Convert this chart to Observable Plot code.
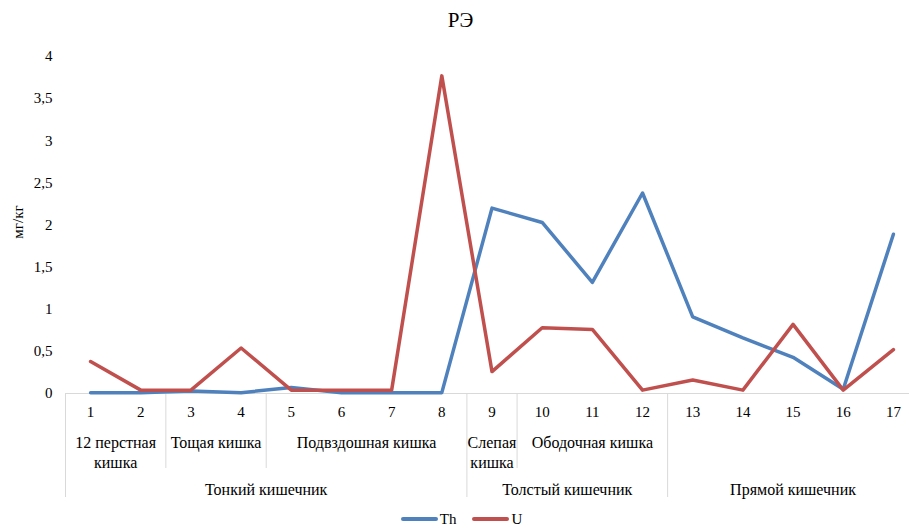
<!DOCTYPE html>
<html><head><meta charset="utf-8">
<script src="https://cdn.jsdelivr.net/npm/d3@7"></script>
<script src="https://cdn.jsdelivr.net/npm/@observablehq/plot@0.6"></script>
<style>
body{margin:0;background:#fff;font-family:'Liberation Serif',serif;color:#000}
#wrap{width:909px;height:531px;overflow:hidden;position:relative;background:#fff}
#title{height:44px;line-height:40px;text-align:center;font-size:21px;padding-left:12px;box-sizing:border-box}
#legend{height:24px;display:flex;justify-content:center;align-items:center;font-size:15px;padding-left:14px}
#legend .item{display:flex;align-items:center;margin:0 8px}
#legend svg{margin-right:2px}
#chart svg, #chart svg text{font-family:'Liberation Serif',serif}
</style></head>
<body><div id="wrap"><div id="title">РЭ</div><div id="chart"></div><div id="legend"></div></div>
<script>
const points = [1,2,3,4,5,6,7,8,9,10,11,12,13,14,15,16,17];
const th = [0.01,0.01,0.03,0.01,0.07,0.01,0.01,0.01,2.20,2.03,1.32,2.38,0.91,0.66,0.43,0.05,1.89];
const u  = [0.38,0.04,0.04,0.54,0.04,0.04,0.04,3.77,0.26,0.78,0.76,0.04,0.16,0.04,0.82,0.04,0.52];
const seriesNames = ["Th","U"];
const seriesColors = ["#4F81BD","#C0504D"];
const yTicks = [0,0.5,1,1.5,2,2.5,3,3.5,4];
const yLabel = "мг/кг";
const subgroupLabels = ["12 перстная\nкишка","Тощая кишка","Подвздошная кишка","Слепая\nкишка","Ободочная кишка",""];
const subgroupFrom = [1,3,5,9,10,13];
const subgroupTo   = [2,4,8,9,12,17];
const groupLabels = ["Тонкий кишечник","Толстый кишечник","Прямой кишечник"];
const groupFrom = [1,9,13];
const groupTo   = [8,12,17];

const data = [];
points.forEach((p,i)=>{ data.push({p, v: th[i], s: "Th"}); });
points.forEach((p,i)=>{ data.push({p, v: u[i], s: "U"}); });
const subgroups = subgroupLabels.map((label,i)=>({label, mid:(subgroupFrom[i]+subgroupTo[i])/2, start:subgroupFrom[i]-0.5}));
const groups = groupLabels.map((label,i)=>({label, mid:(groupFrom[i]+groupTo[i])/2, start:groupFrom[i]-0.5}));
const groupStarts = groups.map(g=>g.start);
const partialSeps = subgroups.map(s=>s.start).filter(s=>!groupStarts.includes(s));

const font = "'Liberation Serif', serif";
const fs = 15;
const fl = 16;
const chart = Plot.plot({
  width: 909, height: 463,
  marginTop: 12, marginBottom: 114, marginLeft: 65, marginRight: -9,
  style: {fontFamily: font, fontSize: fs + "px", color: "#000", background: "#fff"},
  x: {domain: [0.5, 17.5], axis: null},
  y: {domain: [0, 4], axis: null},
  color: {domain: seriesNames, range: seriesColors},
  marks: [
    Plot.ruleY([0], {stroke: "#d9d9d9", strokeWidth: 1}),
    Plot.ruleX(groupStarts, {x: d=>d, y1: ()=>0, y2: ()=>0, insetBottom: -104, stroke: "#d9d9d9"}),
    Plot.ruleX(partialSeps, {x: d=>d, y1: ()=>0, y2: ()=>0, insetBottom: -75, stroke: "#d9d9d9"}),
    Plot.text(yTicks, {y: d=>d, frameAnchor: "left", textAnchor: "end", dx: -13, text: d=>String(d).replace(".", ","), fontFamily: font, fontSize: fs, fill: "#000"}),
    Plot.text([yLabel], {frameAnchor: "left", textAnchor: "middle", rotate: -90, dx: -47, dy: -3, text: d=>d, fontFamily: font, fontSize: fs, fill: "#000"}),
    Plot.text(points, {x: d=>d, y: ()=>0, dy: 19, text: d=>String(d), fontFamily: font, fontSize: fs, fill: "#000"}),
    Plot.text(subgroups, {x: "mid", y: ()=>0, dy: 40, lineAnchor: "top", lineHeight: 1.25, text: "label", fontFamily: font, fontSize: fl, fill: "#000"}),
    Plot.text(groups, {x: "mid", y: ()=>0, dy: 96, text: "label", fontFamily: font, fontSize: fl, fill: "#000"}),
    Plot.line(data, {x: "p", y: "v", stroke: "s", strokeWidth: 3.5, strokeLinejoin: "round", strokeLinecap: "round"})
  ]
});
document.getElementById("chart").appendChild(chart);

const legend = document.getElementById("legend");
seriesNames.forEach((name,i)=>{
  const item = document.createElement("div");
  item.className = "item";
  item.innerHTML = `<svg width="37" height="6"><line x1="2" y1="3" x2="35" y2="3" stroke="${seriesColors[i]}" stroke-width="4" stroke-linecap="round"/></svg><span>${name}</span>`;
  legend.appendChild(item);
});
</script>
</body></html>
